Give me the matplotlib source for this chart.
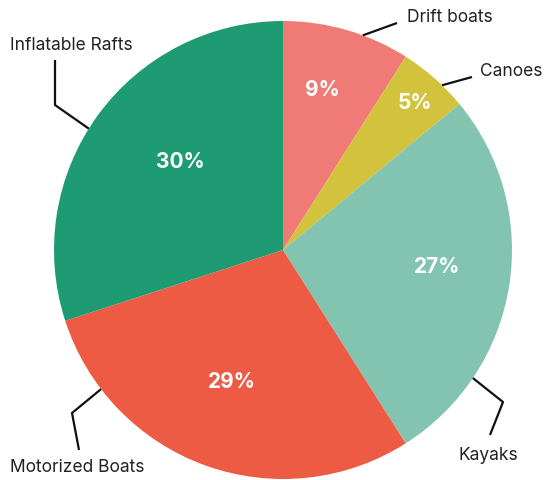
import matplotlib
matplotlib.use('Agg')
import matplotlib.pyplot as plt
import numpy as np

categories = ['Drift boats', 'Canoes', 'Kayaks', 'Motorized Boats', 'Inflatable Rafts']
shares = [9, 5, 27, 29, 30]
colors = ['#F07A75', '#D3C23B', '#82C4B0', '#EE5B45', '#1E9B72']

plt.rcParams['font.family'] = ['Inter', 'DejaVu Sans']

W, H = 550, 480
fig = plt.figure(figsize=(W / 100, H / 100), dpi=100)
ax = fig.add_axes([0, 0, 1, 1])

cx, cy, r = 283, H - 250, 229
wedges, _, autotexts = ax.pie(shares, colors=colors, startangle=90, counterclock=False,
                              center=(cx, cy), radius=r, autopct='%d%%', pctdistance=0.6,
                              wedgeprops=dict(linewidth=0),
                              textprops=dict(color='white', fontsize=15, fontweight='bold'))
# pie() resets the limits, so set them afterwards
ax.set_xlim(0, W)
ax.set_ylim(0, H)
ax.set_aspect('equal')
ax.axis('off')

# nudge percentage labels to match reference placement
pct_pos = {'Drift boats': (322, 90), 'Canoes': (415, 103), 'Kayaks': (437, 267),
           'Motorized Boats': (232, 382), 'Inflatable Rafts': (180, 162)}
for name, t in zip(categories, autotexts):
    x, y = pct_pos[name]
    t.set_position((x, H - y))
    t.set_ha('center')
    t.set_va('center')

# leader lines: anchor angle on the rim, extra points (image coords), text spot
leaders = {
    'Drift boats': (69.6, [(397, 23)], (407, 18), 'left'),
    'Canoes': (46, [(472, 77)], (480, 71), 'left'),
    'Kayaks': (-34, [(503, 402), (490, 435)], (488, 456), 'center'),
    'Motorized Boats': (-142.6, [(72, 413), (79, 450)], (10, 468), 'left'),
    'Inflatable Rafts': (148, [(55, 105), (55, 60)], (10, 45), 'left'),
}
for name in categories:
    ang, pts, (tx, ty), ha = leaders[name]
    a = np.deg2rad(ang)
    xs = [cx + r * np.cos(a)] + [p[0] for p in pts]
    ys = [cy + r * np.sin(a)] + [H - p[1] for p in pts]
    ax.plot(xs, ys, color='#111111', lw=1.6, solid_capstyle='butt')
    ax.text(tx, H - ty, name, ha=ha, va='center', fontsize=12.5, color='#222222')

fig.savefig('out.png', dpi=100)
